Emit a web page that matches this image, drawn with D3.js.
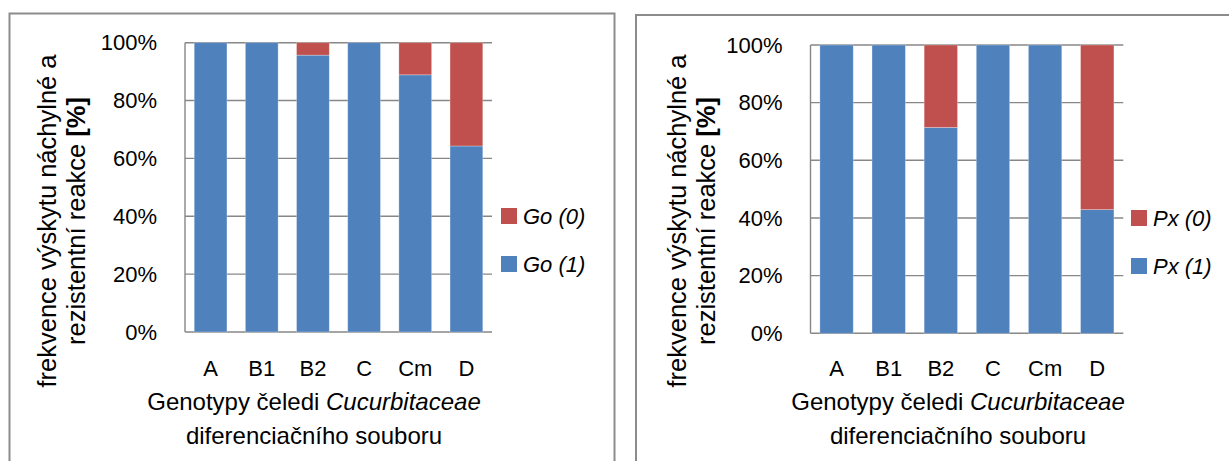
<!DOCTYPE html>
<html><head><meta charset="utf-8">
<script src="https://cdn.jsdelivr.net/npm/d3@7"></script>
<style>
html,body{margin:0;padding:0;background:#fff;}
svg{display:block;}
text{font-family:"Liberation Sans",Arial,sans-serif;fill:#000;}
</style></head>
<body>
<svg id="chart" width="1229" height="461"></svg>
<script>
// ---- data ----
const categories = ["A", "B1", "B2", "C", "Cm", "D"];
const goResistant   = [100, 100, 95.7, 100, 88.9, 64.3];   // Go (1)
const goSusceptible = [0, 0, 4.3, 0, 11.1, 35.7];           // Go (0)
const pxResistant   = [100, 100, 71.4, 100, 100, 42.9];     // Px (1)
const pxSusceptible = [0, 0, 28.6, 0, 0, 57.1];             // Px (0)
const yTickValues = [0, 20, 40, 60, 80, 100];
const yTickLabels = ["0%", "20%", "40%", "60%", "80%", "100%"];
const legendGo = ["Go (0)", "Go (1)"];
const legendPx = ["Px (0)", "Px (1)"];
const yTitleLines = ["frekvence výskytu náchylné a", "rezistentní reakce "];
const xTitleLine1 = "Genotypy čeledi ";
const xTitleItalic = "Cucurbitaceae";
const xTitleLine2 = "diferenciačního souboru";

const BLUE = "#4F81BD", RED = "#C0504D", GRID = "#878787";
const FONT = "Liberation Sans";
const svg = d3.select("#chart");

function panel(cfg) {
  const g = svg.append("g");
  // frame
  g.append("rect").attr("x", cfg.frame[0]).attr("y", cfg.frame[1])
    .attr("width", cfg.frame[2]).attr("height", cfg.frame[3])
    .attr("fill", "#fff").attr("stroke", "#8c8c8c").attr("stroke-width", 2);

  const x = d3.scaleBand().domain(categories).range([cfg.left, cfg.right])
    .paddingInner(0.36).paddingOuter(0.18);
  const y = d3.scaleLinear().domain([0, 100]).range([cfg.bottom, cfg.top]);

  // gridlines
  g.append("g").selectAll("line").data(yTickValues).join("line")
    .attr("x1", cfg.left).attr("x2", cfg.right)
    .attr("y1", d => y(d)).attr("y2", d => y(d))
    .attr("stroke", GRID).attr("stroke-width", 1.4);
  // y axis line
  g.append("line").attr("x1", cfg.left).attr("x2", cfg.left)
    .attr("y1", y(0)).attr("y2", y(100)).attr("stroke", GRID).attr("stroke-width", 1.4);

  // y tick labels via axis
  const yAxis = d3.axisLeft(y).tickValues(yTickValues)
    .tickFormat((d, i) => yTickLabels[i]).tickSize(0).tickPadding(28);
  const ya = g.append("g").attr("transform", `translate(${cfg.left},0)`).call(yAxis);
  ya.select(".domain").remove();
  ya.selectAll("text").attr("font-size", 22).attr("font-family", FONT).attr("fill", "#000");

  // stacked bars
  const rows = categories.map((c, i) => ({cat: c, r: cfg.resistant[i], s: cfg.susceptible[i]}));
  const stack = d3.stack().keys(["r", "s"])(rows);
  const colors = {r: BLUE, s: RED};
  g.append("g").selectAll("g").data(stack).join("g")
    .attr("fill", d => colors[d.key])
    .selectAll("rect").data(d => d.filter(p => p[1] - p[0] > 0)).join("rect")
    .attr("x", d => x(d.data.cat))
    .attr("width", x.bandwidth())
    .attr("y", d => y(d[1]))
    .attr("height", d => y(d[0]) - y(d[1]))
    .attr("stroke", "rgba(255,255,255,0.35)").attr("stroke-width", 0.8);

  // x category labels
  const xAxis = d3.axisBottom(x).tickSize(0).tickPadding(0);
  const xa = g.append("g").attr("transform", `translate(0,${cfg.catY})`).call(xAxis);
  xa.select(".domain").remove();
  xa.selectAll("text").attr("font-size", 22).attr("font-family", FONT)
    .attr("fill", "#000").attr("dy", 0).attr("y", 0);

  // x title
  const t1 = g.append("text").attr("x", cfg.xTitleX).attr("y", cfg.xTitleY)
    .attr("text-anchor", "middle").attr("font-size", 24);
  t1.append("tspan").text(xTitleLine1);
  t1.append("tspan").attr("font-style", "italic").text(xTitleItalic);
  g.append("text").attr("x", cfg.xTitleX).attr("y", cfg.xTitleY + 34)
    .attr("text-anchor", "middle").attr("font-size", 24).text(xTitleLine2);

  // y title
  const yt = g.append("g").attr("transform", `translate(${cfg.yTitleX},${cfg.yTitleY}) rotate(-90)`);
  yt.append("text").attr("x", 0).attr("y", 0).attr("text-anchor", "middle")
    .attr("font-size", 25.5).text(yTitleLines[0]);
  const l2 = yt.append("text").attr("x", 0).attr("y", 29).attr("text-anchor", "middle")
    .attr("font-size", 25.5);
  l2.append("tspan").text(yTitleLines[1]);
  l2.append("tspan").attr("font-weight", "bold").text("[%]");

  // legend
  const colorsLeg = [RED, BLUE];
  const lg = g.append("g").selectAll("g").data(cfg.legend).join("g")
    .attr("transform", (d, i) => `translate(${cfg.legX},${cfg.legY + i * 48})`);
  lg.append("rect").attr("x", 0).attr("y", -8).attr("width", 16).attr("height", 16)
    .attr("fill", (d, i) => colorsLeg[i]);
  lg.append("text").attr("x", 22).attr("y", 8).attr("font-size", 22)
    .attr("font-style", "italic").text(d => d);
}

panel({
  frame: [9.5, 13.5, 605, 470],
  left: 185, right: 492, top: 42.7, bottom: 332,
  resistant: goResistant, susceptible: goSusceptible,
  catY: 376, xTitleX: 314, xTitleY: 410,
  yTitleX: 56, yTitleY: 221,
  legend: legendGo, legX: 501, legY: 216
});
panel({
  frame: [636, 15, 620, 470],
  left: 810.5, right: 1123.3, top: 45, bottom: 333.3,
  resistant: pxResistant, susceptible: pxSusceptible,
  catY: 376, xTitleX: 958, xTitleY: 410,
  yTitleX: 686, yTitleY: 221,
  legend: legendPx, legX: 1131, legY: 218
});
</script>
</body></html>
